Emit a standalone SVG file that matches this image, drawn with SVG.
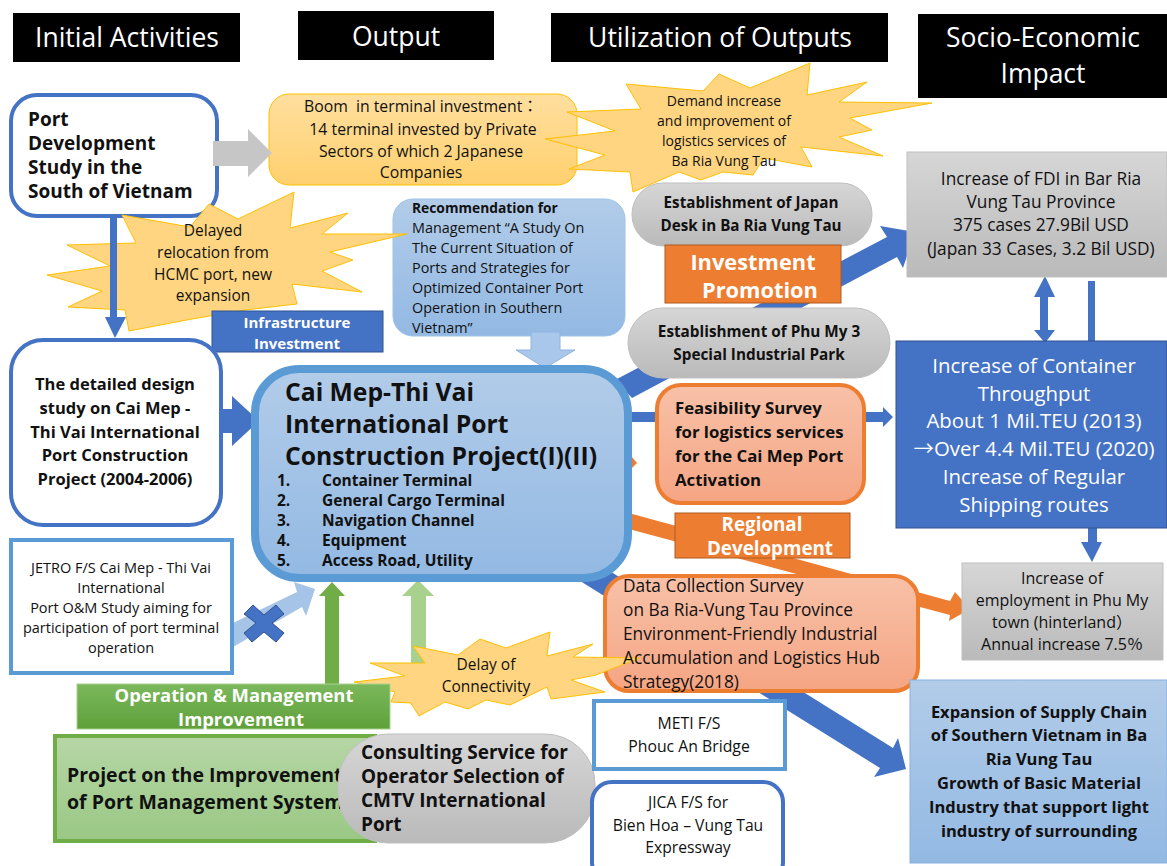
<svg xmlns="http://www.w3.org/2000/svg" width="1167" height="866" viewBox="0 0 1167 866">
<style>
text{font-family:"Open Sans","Noto Sans","Noto Sans CJK JP",sans-serif;fill:#111}
.c{text-anchor:middle}
.b{font-weight:700}
.w{fill:#fff}
.h{font-size:26.5px;fill:#fff;text-anchor:middle}
.blue{fill:#4472c4}
.box{stroke-width:4}
.burst{fill:#ffd581;stroke:#ffc000;stroke-width:1}
</style>
<defs>
<linearGradient id="gy" x1="0" y1="0" x2="0" y2="1"><stop offset="0" stop-color="#ffdf9f"/><stop offset="1" stop-color="#ffd06e"/></linearGradient>
<linearGradient id="gb" x1="0" y1="0" x2="0" y2="1"><stop offset="0" stop-color="#b2cce9"/><stop offset="1" stop-color="#93b9e3"/></linearGradient>
<linearGradient id="gg" x1="0" y1="0" x2="0" y2="1"><stop offset="0" stop-color="#d6d6d6"/><stop offset="1" stop-color="#bababa"/></linearGradient>
<linearGradient id="go" x1="0" y1="0" x2="0" y2="1"><stop offset="0" stop-color="#f8c1a8"/><stop offset="1" stop-color="#f5a583"/></linearGradient>
<linearGradient id="gn" x1="0" y1="0" x2="0" y2="1"><stop offset="0" stop-color="#b6d6a6"/><stop offset="1" stop-color="#9ac884"/></linearGradient>
<linearGradient id="gd" x1="0" y1="0" x2="0" y2="1"><stop offset="0" stop-color="#7bb85c"/><stop offset="1" stop-color="#5fa03a"/></linearGradient>
</defs>
<rect width="1167" height="866" fill="#fff"/>

<g id="hdr-initial"><rect x="13" y="13" width="227" height="49" fill="#000"/><text class="h" x="127" y="47">Initial Activities</text></g>
<g id="hdr-output"><rect x="298" y="11" width="196" height="49" fill="#000"/><text class="h" x="396" y="46">Output</text></g>
<g id="hdr-util"><rect x="551" y="13" width="337" height="49" fill="#000"/><text class="h" x="720" y="47">Utilization of Outputs</text></g>
<g id="hdr-socio"><rect x="918" y="14" width="249" height="84" fill="#000"/><text class="h" x="1043" y="47">Socio-Economic</text><text class="h" x="1043" y="83">Impact</text></g>

<g id="port-study"><rect class="box" x="11" y="95" width="206" height="121" rx="26" fill="#fff" stroke="#4472c4"/>
<g class="b" font-size="19"><text x="28" y="126">Port</text><text x="28" y="150">Development</text><text x="28" y="174">Study in the</text><text x="28" y="198">South of Vietnam</text></g></g>

<g id="boom"><rect x="269" y="94" width="308" height="91" rx="20" fill="url(#gy)" stroke="#ffc000"/>
<g class="c" font-size="15.8"><text x="421" y="112">Boom&#160; in terminal investment：</text><text x="423" y="135">14 terminal invested by Private</text><text x="421" y="157">Sectors of which 2 Japanese</text><text x="421" y="178">Companies</text></g></g>

<g id="demand"><polygon class="burst" points="567,112 641,109 626,84 703,91 719,74 750,88 810,63 807,95 867,82 839,102 932,103 850,118 872,130 839,137 883,156 801,147 812,167 764,158 753,175 723,172 701,180 679,172 633,192 630,172 569,169 605,155 545,139 615,131"/>
<g class="c" font-size="14"><text x="724" y="106">Demand increase</text><text x="724" y="126">and improvement of</text><text x="724" y="146">logistics services of</text><text x="724" y="166">Ba Ria Vung Tau</text></g></g>

<g id="recommendation"><rect x="393" y="199" width="232" height="137" rx="20" fill="url(#gb)" stroke="#9dc3e6"/>
<g font-size="14.4"><text class="b" font-size="13.8" x="412" y="213">Recommendation for</text><text x="412" y="233">Management “A Study On</text><text x="412" y="253">The Current Situation of</text><text x="412" y="273">Ports and Strategies for</text><text x="412" y="293">Optimized Container Port</text><text x="412" y="313">Operation in Southern</text><text x="412" y="333">Vietnam”</text></g></g>

<g id="delayed"><polygon class="burst" points="122,215 136,243 67,245 110,266 47,275 102,291 68,307 125,310 129,331 192,319 245,310 297,304 292,284 362,292 322,271 353,260 330,252 407,234 322,234 348,213 290,228 294,192 238,219 209,204 190,227"/>
<g class="c" font-size="15.5"><text x="213" y="236">Delayed</text><text x="213" y="258">relocation from</text><text x="213" y="280">HCMC port, new</text><text x="213" y="301">expansion</text></g></g>

<g id="connectors">
<polygon fill="#c6c6c6" points="213,141 248,141 248,129 272,153 248,177 248,166 213,166"/>
<polygon class="blue" points="110,216 117,216 117,317 126,317 115,338 105,317 110,317"/>
<polygon class="blue" points="207,409 232,409 232,396 259,421 232,446 232,433 207,433"/>
<polygon fill="#a9c7ea" stroke="#8fb4e0" points="531,332 560,332 560,350 575,350 545,368 516,350 531,350"/>
<polygon class="blue" points="615,380 887,237 880,226 915,232 903,268 897,257 632,398"/>
<polygon class="blue" points="632,412 660,412 660,422 632,422"/>
<polygon class="blue" points="860,412 883,412 883,407 893,417 883,427 883,422 860,422"/>
<polygon fill="#ed7d31" points="632,457 637,463 632,468"/>
<polygon fill="#ed7d31" points="625,512 950,601 955,592 970,609 949,621 950,615 625,528"/>
<polygon class="blue" points="600,565 893,748 898,738 906,769 874,777 880,768 577,579"/>
<polygon class="blue" points="1040,297 1034,297 1045,276 1055,297 1048,297 1048,330 1055,330 1045,343 1034,330 1040,330"/>
<rect class="blue" x="1088" y="281" width="7" height="60"/>
<polygon class="blue" points="1088,528 1097,528 1097,542 1102,542 1092,562 1081,542 1088,542"/>
<polygon fill="#a6c4e8" points="233,623 297,592 294,582 315,589 306,616 302,607 233,647"/>
<polygon fill="#70ad47" points="325,684 325,596 319,596 332,582 345,596 339,596 339,684"/>
<polygon fill="#a9d18e" points="411,705 411,596 402,596 418,580 434,596 426,596 426,705"/>
</g>

<g id="cross"><polygon fill="#4472c4" stroke="#2f528f" points="264,615 253,605 244,614 256,623 244,633 252,642 264,632 276,642 284,633 272,623 284,614 276,605"/></g>

<g id="infrastructure"><rect x="212" y="311" width="171" height="41" fill="#4472c4" stroke="#2f528f"/>
<g class="c b" font-size="15"><text class="w" x="297" y="328">Infrastructure</text><text class="w" x="297" y="349">Investment</text></g></g>

<g id="detailed-design"><rect class="box" x="11" y="340" width="210" height="185" rx="32" fill="#fff" stroke="#4472c4"/>
<g class="c b" font-size="16.5"><text x="115" y="390">The detailed design</text><text x="115" y="414">study on Cai Mep -</text><text x="115" y="438">Thi Vai International</text><text x="115" y="461">Port Construction</text><text x="115" y="485">Project (2004-2006)</text></g></g>

<g id="main"><rect x="255" y="369" width="373" height="209" rx="44" fill="url(#gb)" stroke="#5b9bd5" stroke-width="8"/>
<g class="b" font-size="24.7"><text x="285" y="401">Cai Mep-Thi Vai</text><text x="285" y="433">International Port</text><text x="285" y="465">Construction Project(I)(II)</text></g>
<g class="b" font-size="15.5"><text x="277" y="486">1.</text><text x="322" y="486">Container Terminal</text><text x="277" y="506">2.</text><text x="322" y="506">General Cargo Terminal</text><text x="277" y="526">3.</text><text x="322" y="526">Navigation Channel</text><text x="277" y="546">4.</text><text x="322" y="546">Equipment</text><text x="277" y="566">5.</text><text x="322" y="566">Access Road, Utility</text></g></g>

<g id="japan-desk"><rect x="632" y="183" width="240" height="63" rx="31" fill="url(#gg)" stroke="#bfbfbf"/>
<g class="c b" font-size="15.2"><text x="751" y="208">Establishment of Japan</text><text x="751" y="231">Desk in Ba Ria Vung Tau</text></g></g>

<g id="investment"><rect x="665" y="245" width="176" height="58" fill="#ed7d31" stroke="#ae5a21"/>
<g class="c b" font-size="21.8"><text class="w" x="753" y="270">Investment</text><text class="w" x="760" y="298">Promotion</text></g></g>

<g id="phu-my"><rect x="628" y="308" width="262" height="70" rx="35" fill="url(#gg)" stroke="#bfbfbf"/>
<g class="c b" font-size="15.3"><text x="759" y="337">Establishment of Phu My 3</text><text x="759" y="360">Special Industrial Park</text></g></g>

<g id="feasibility"><rect class="box" x="657" y="385" width="207" height="118" rx="24" fill="url(#go)" stroke="#ed7d31"/>
<g class="b" font-size="16.8"><text x="675" y="414">Feasibility Survey</text><text x="675" y="438">for logistics services</text><text x="675" y="462">for the Cai Mep Port</text><text x="675" y="486">Activation</text></g></g>

<g id="regional"><rect x="675" y="513" width="175" height="45" fill="#ed7d31" stroke="#ae5a21"/>
<g class="c b" font-size="18.8"><text class="w" x="762" y="531">Regional</text><text class="w" x="770" y="555">Development</text></g></g>

<g id="data-survey"><rect class="box" x="605" y="576" width="313" height="115" rx="24" fill="url(#go)" stroke="#ed7d31"/></g>

<g id="delay-burst"><polygon class="burst" points="370,663 425,663 413,646 458,655 480,639 506,648 550,632 547,656 593,644 573,657 640,658 596,675 571,680 605,692 551,699 547,687 510,705 486,700 468,709 445,702 419,716 411,703 391,702 395,692 354,682 405,676"/>
<g class="c" font-size="15.5"><text x="486" y="670">Delay of</text><text x="486" y="692">Connectivity</text></g></g>

<g id="data-survey-text" font-size="17.3"><text x="623" y="592">Data Collection Survey</text><text x="623" y="616">on Ba Ria-Vung Tau Province</text><text x="623" y="640">Environment-Friendly Industrial</text><text x="623" y="664">Accumulation and Logistics Hub</text><text x="623" y="688">Strategy(2018)</text></g>

<g id="fdi"><rect x="907" y="152" width="260" height="125" fill="url(#gg)" stroke="#bfbfbf"/>
<g class="c" font-size="17.3"><text x="1041" y="185">Increase of FDI in Bar Ria</text><text x="1041" y="208">Vung Tau Province</text><text x="1041" y="231">375 cases 27.9Bil USD</text><text x="1041" y="255">(Japan 33 Cases, 3.2 Bil USD)</text></g></g>

<g id="throughput"><rect x="896" y="341" width="271" height="187" fill="#4472c4" stroke="#2f528f"/>
<g class="c" font-size="20.4"><text class="w" x="1034" y="373">Increase of Container</text><text class="w" x="1034" y="401">Throughput</text><text class="w" x="1034" y="428">About 1 Mil.TEU (2013)</text><text class="w" x="1034" y="456">→Over 4.4 Mil.TEU (2020)</text><text class="w" x="1034" y="484">Increase of Regular</text><text class="w" x="1034" y="512">Shipping routes</text></g></g>

<g id="employment"><rect x="962" y="563" width="201" height="97" fill="url(#gg)" stroke="#bfbfbf"/>
<g class="c" font-size="16"><text x="1062" y="584">Increase of</text><text x="1062" y="606">employment in Phu My</text><text x="1062" y="628">town (hinterland）</text><text x="1062" y="650">Annual increase 7.5％</text></g></g>

<g id="expansion"><rect x="910" y="680" width="257" height="183" fill="url(#gb)" stroke="#8ab0dd"/>
<g class="c b" font-size="16.5"><text x="1039" y="718">Expansion of Supply Chain</text><text x="1039" y="741">of Southern Vietnam in Ba</text><text x="1039" y="765">Ria Vung Tau</text><text x="1039" y="789">Growth of Basic Material</text><text x="1039" y="813">Industry that support light</text><text x="1039" y="837">industry of surrounding</text></g></g>

<g id="jetro"><rect class="box" x="11" y="540" width="221" height="133" fill="#fff" stroke="#5b9bd5"/>
<g class="c" font-size="14.5"><text x="121" y="573">JETRO F/S Cai Mep - Thi Vai</text><text x="121" y="593">International</text><text x="121" y="613">Port O&amp;M Study aiming for</text><text x="121" y="633">participation of port terminal</text><text x="121" y="653">operation</text></g></g>

<g id="operation"><rect x="77" y="684" width="313" height="45" fill="url(#gd)" stroke="#a9d18e"/>
<g class="c b" font-size="18.4"><text class="w" x="234" y="702">Operation &amp; Management</text><text class="w" x="241" y="726">Improvement</text></g></g>

<g id="project"><rect class="box" x="55" y="736" width="320" height="105" fill="url(#gn)" stroke="#70ad47"/>
<g class="b" font-size="19.5"><text x="67" y="782">Project on the Improvement</text><text x="67" y="809">of Port Management System</text></g></g>

<g id="consulting"><rect x="338" y="734" width="257" height="109" rx="50" fill="url(#gg)" stroke="#bfbfbf"/>
<g class="b" font-size="19"><text x="361" y="759">Consulting Service for</text><text x="361" y="783">Operator Selection of</text><text x="361" y="807">CMTV International</text><text x="361" y="831">Port</text></g></g>

<g id="meti"><rect class="box" x="594" y="701" width="191" height="68" fill="#fff" stroke="#5b9bd5"/>
<g class="c" font-size="15.8"><text x="689" y="729">METI F/S</text><text x="689" y="752">Phouc An Bridge</text></g></g>

<g id="jica"><rect class="box" x="592" y="782" width="191" height="100" rx="20" fill="#fff" stroke="#4472c4"/>
<g class="c" font-size="15.7"><text x="688" y="808">JICA F/S for</text><text x="688" y="831">Bien Hoa – Vung Tau</text><text x="688" y="853">Expressway</text></g></g>
</svg>
